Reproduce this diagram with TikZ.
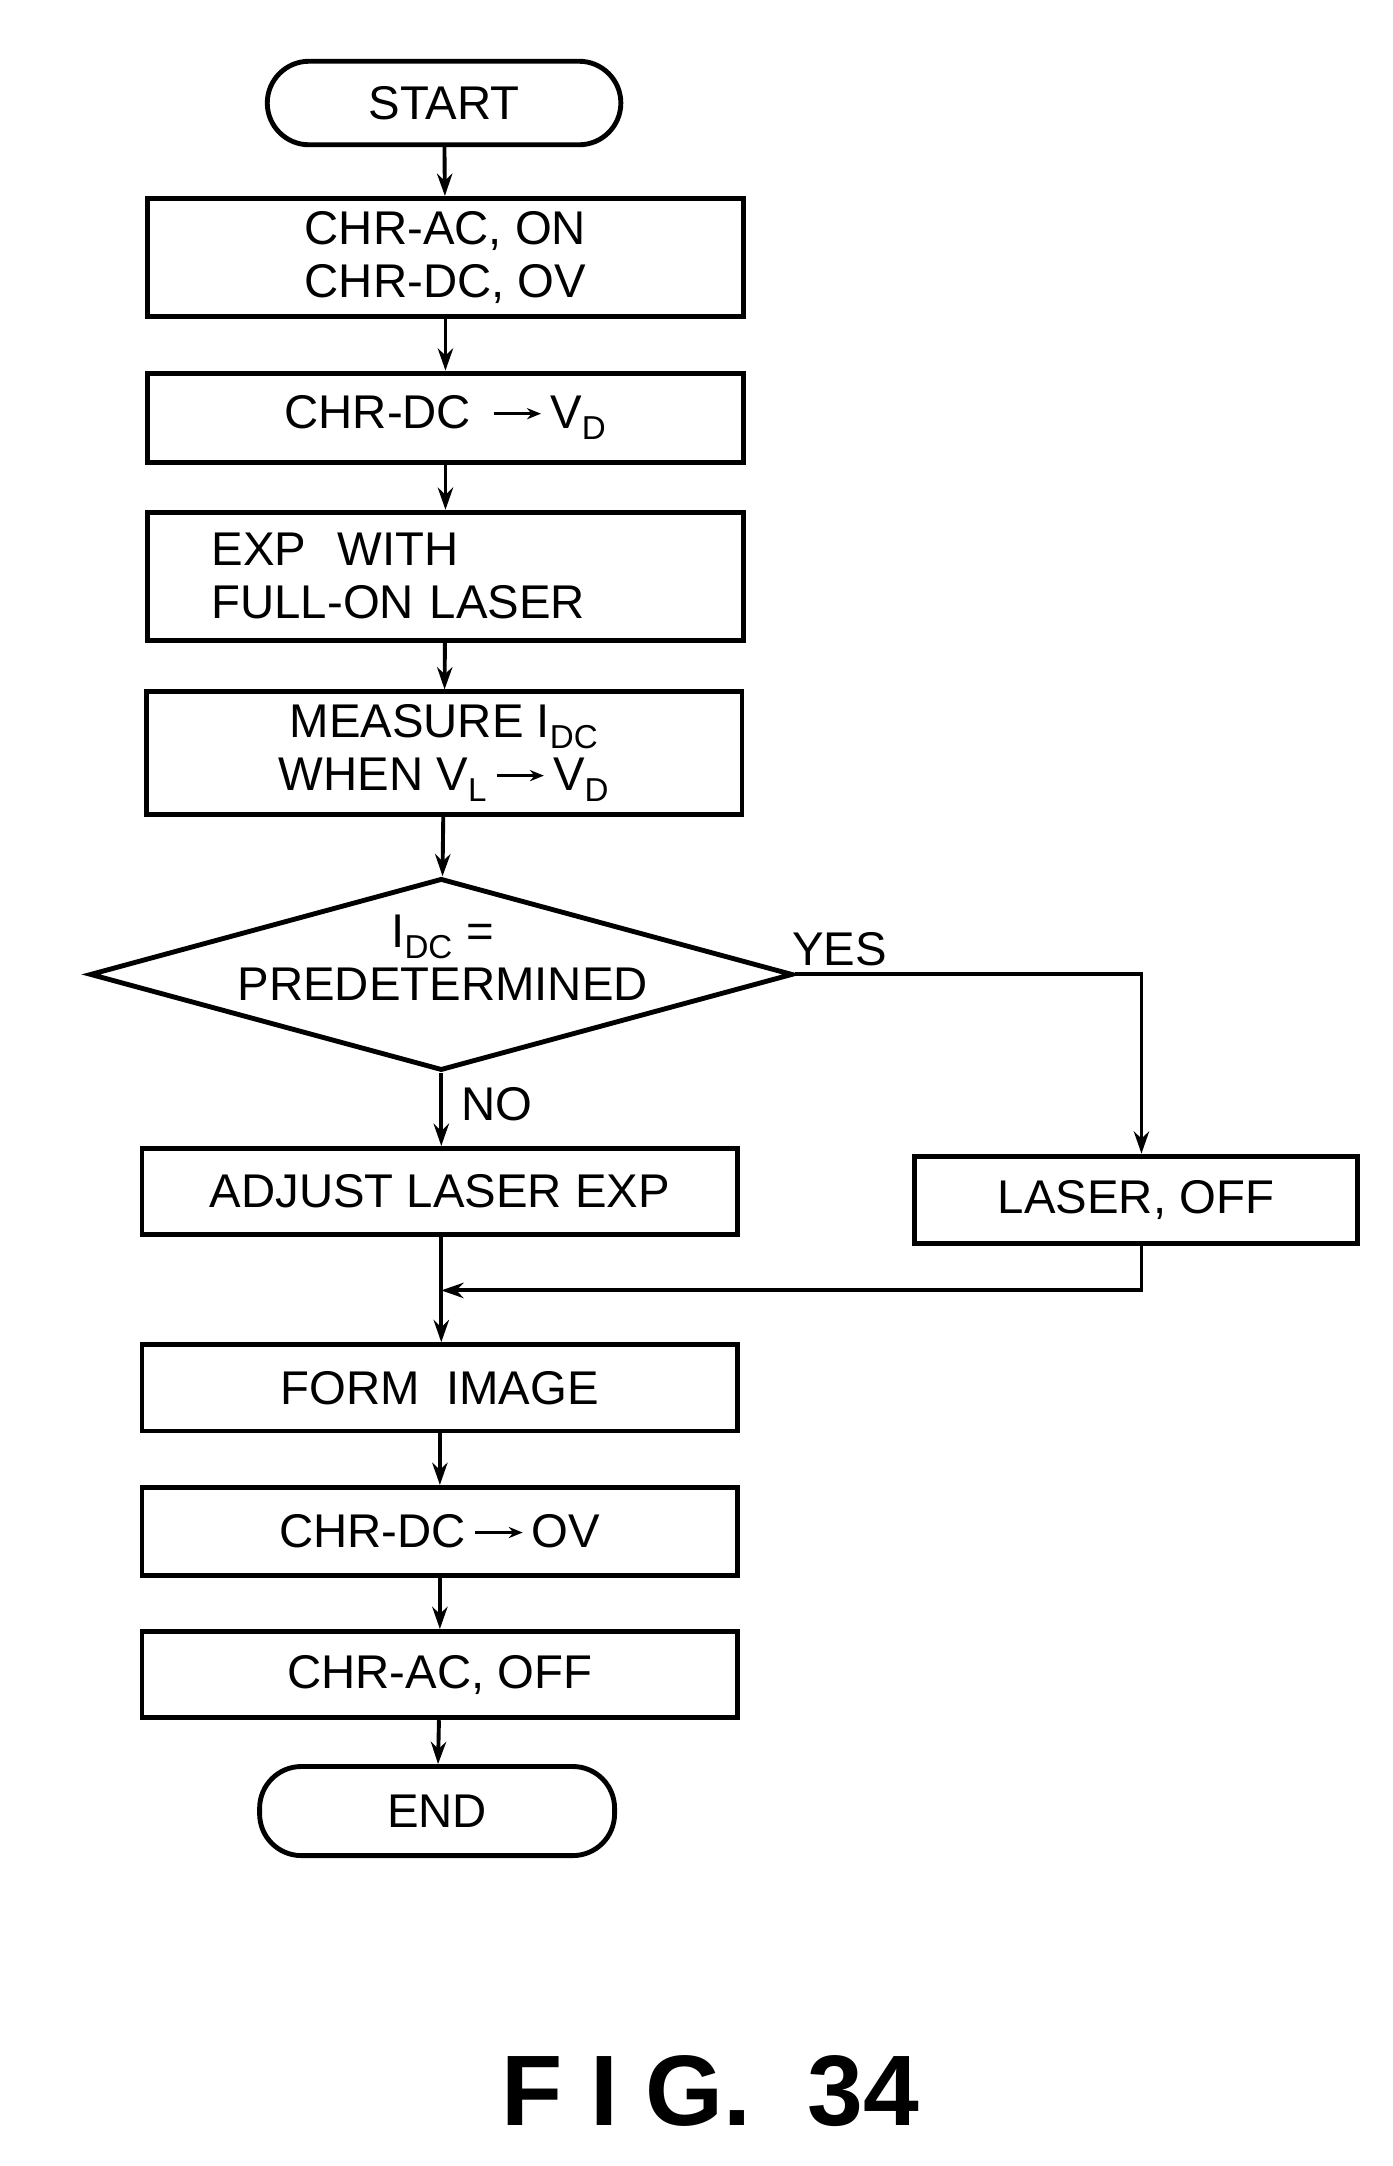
\documentclass[tikz,border=0pt]{standalone}
\usepackage{amsmath}
\usepackage{fontspec}
\setmainfont{Liberation Sans}
\usetikzlibrary{shapes.geometric,arrows.meta}
\newcommand{\myarr}{\,\tikz[baseline=-0.6ex]\draw[line width=2pt,-{Stealth[length=10pt,width=8pt]}](0,0)--(34pt,0);\,}
\begin{document}
\begin{tikzpicture}[x=1pt,y=-1pt,
 box/.style={draw,line width=3.5pt,minimum width=428pt,minimum height=62pt,inner sep=0pt,align=center,font=\fontsize{34}{38}\selectfont},
 term/.style={draw,line width=3.5pt,rounded corners=30pt,minimum width=254pt,minimum height=60pt,font=\fontsize{34}{38}\selectfont},
 arr/.style={line width=2.8pt,-{Stealth[length=16pt,width=11pt]}},
 lbl/.style={font=\fontsize{34}{38}\selectfont}]
\useasboundingbox (0,0) rectangle (1000,1556);
\node[term] (s) at (319,74) {START};
\node[box,minimum height=85pt] (b1) at (320,185) {CHR-AC, ON\\CHR-DC, OV};
\node[box,minimum height=64pt] (b2) at (320,300) {CHR-DC \myarr V\textsubscript{D}};
\node[box,minimum height=92pt,align=left,text width=336pt] (b3) at (320,414) {EXP\ \ WITH\\FULL-ON LASER};
\node[box,minimum height=88pt] (b4) at (319,541) {MEASURE I\textsubscript{DC}\\WHEN V\textsubscript{L}\myarr V\textsubscript{D}};
\node[draw,diamond,aspect=3.64,line width=3.5pt,inner sep=0pt,minimum width=505pt,minimum height=138pt] (d) at (317,700) {};
\node[lbl,align=center] (dt) at (318,688) {I\textsubscript{DC} =\\PREDETERMINED};
\node[box] (adj) at (316,856) {ADJUST LASER EXP};
\node[box,minimum width=318pt,minimum height=63pt] (las) at (816,862) {LASER, OFF};
\node[box] (fi) at (316,997) {FORM\ \ IMAGE};
\node[box,minimum height=63pt] (c1) at (316,1100) {CHR-DC\myarr OV};
\node[box] (c2) at (316,1203) {CHR-AC,\ OFF};
\node[term,minimum width=255pt,minimum height=64pt] (e) at (314,1301) {END};
\node[lbl] (yes) at (603,682) {YES};
\node[lbl] (no) at (357,793) {NO};
\node[font=\fontsize{72}{80}\selectfont\bfseries] (fig) at (510,1502) {F I G.\ \ 34};
\coordinate (j) at (317,927);
\draw[arr] (s) -- (b1);
\draw[arr] (b1) -- (b2);
\draw[arr] (b2) -- (b3);
\draw[arr] (b3) -- (b4);
\draw[arr] (b4) -- (d);
\draw[arr] (d.south) -- (adj.north -| d.south);
\draw[arr] (d.east) -| (las.north -| 820,0);
\draw[line width=2.8pt] (adj.south -| j) -- (j);
\draw[arr] (las.south -| 820,0) |- (j);
\draw[arr] (j) -- (fi.north -| j);
\draw[arr] (fi) -- (c1);
\draw[arr] (c1) -- (c2);
\draw[arr] (c2) -- (e);
\end{tikzpicture}
\end{document}
